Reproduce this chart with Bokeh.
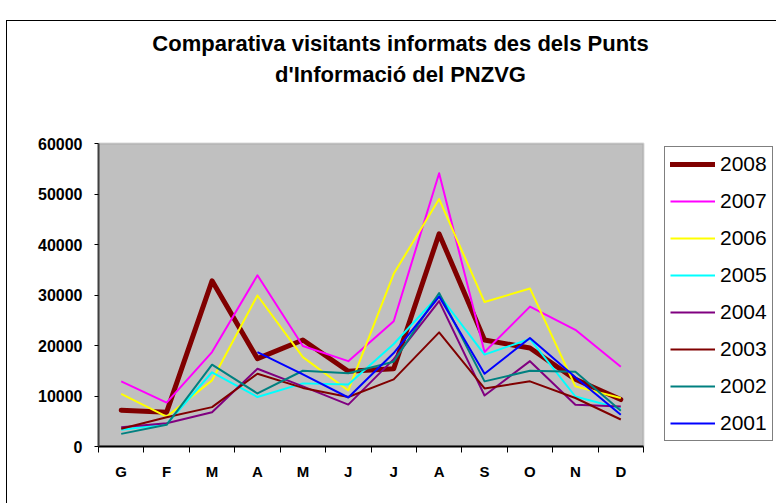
from bokeh.plotting import figure
from bokeh.models import FixedTicker, Legend, LegendItem, Range1d, Label, BoxAnnotation
from bokeh.embed import file_html
from bokeh.resources import INLINE

months = ["G", "F", "M", "A", "M", "J", "J", "A", "S", "O", "N", "D"]
years = ["2008", "2007", "2006", "2005", "2004", "2003", "2002", "2001"]
nan = float("nan")
v2008 = [7200, 6800, 32800, 17400, 21100, 14900, 15400, 42100, 21100, 19500, 13300, 9300]
v2007 = [12900, 8700, 18700, 33900, 19900, 16900, 24800, 54100, 18700, 27700, 23100, 15800]
v2006 = [10400, 5900, 13100, 29900, 17700, 11100, 34200, 49000, 28600, 31300, 11900, 9600]
v2005 = [3300, 4400, 14700, 9800, 12500, 12300, 20300, 30000, 18200, 21300, 9900, 7500]
v2004 = [3800, 4600, 6800, 15400, 11900, 8300, 17300, 28800, 10100, 16900, 8250, 7900]
v2003 = [3500, 5800, 7800, 14400, 11600, 9800, 13300, 22600, 11500, 12900, 9600, 5350]
v2002 = [2500, 4300, 16200, 10500, 15000, 14500, 16800, 30400, 12900, 15000, 14800, 7100]
v2001 = [nan, nan, nan, 18700, 14300, 9700, 18500, 29700, 14400, 21500, 13700, 6300]
y_ticks = [0, 10000, 20000, 30000, 40000, 50000, 60000]
title_lines = ["Comparativa visitants informats des dels Punts", "d'Informació del PNZVG"]

series = [v2008, v2007, v2006, v2005, v2004, v2003, v2002, v2001]
colors = ["#800000", "#FF00FF", "#FFFF00", "#00FFFF", "#800080", "#800000", "#008080", "#0000FF"]
widths = [5, 2, 2, 2, 2, 2, 2, 2]

x = list(range(1, len(months) + 1))
y_max = y_ticks[-1]

FONT = "Liberation Sans"

# layout (pixels): plot area 545 x 303, frame extended to hold title & legend
W, H = 770, 483
LEFT, BOTTOM = 91, 58
PLOT_W, PLOT_H = 545, 303
frame_w = W - LEFT
frame_h = H - BOTTOM
x_start = 0.5
x_end = x_start + len(months) * frame_w / PLOT_W
y_end = y_max * frame_h / PLOT_H

p = figure(width=W, height=H, output_backend="svg", toolbar_location=None,
           x_range=Range1d(x_start, x_end), y_range=Range1d(0, y_end),
           min_border_left=LEFT, min_border_right=0, min_border_top=0, min_border_bottom=BOTTOM,
           margin=(20, 0, 0, 6),
           styles={"border-left": "1px solid black", "border-top": "1px solid black"})
p.background_fill_color = "white"
p.border_fill_color = "white"
p.outline_line_color = None
p.xgrid.visible = False
p.ygrid.visible = False

# plot area (grey)
p.add_layout(BoxAnnotation(left=x_start, right=x_start + len(months), bottom=0, top=y_max,
                           fill_color="#C0C0C0", fill_alpha=1,
                           line_color="#808080", line_width=2, level="underlay"))

# axes
p.xaxis.bounds = (x_start, x_start + len(months))
p.xaxis.ticker = FixedTicker(ticks=x, minor_ticks=[i + 0.5 for i in range(0, len(months) + 1)])
p.xaxis.major_label_overrides = {i: m for i, m in zip(x, months)}
p.xaxis.major_tick_out = 0
p.xaxis.major_tick_in = 0
p.xaxis.minor_tick_out = 6
p.xaxis.minor_tick_in = 0
p.xaxis.minor_tick_line_color = "black"
p.xaxis.axis_line_color = "black"
p.xaxis.axis_line_width = 2
p.xaxis.major_label_standoff = 10
p.xaxis.major_label_text_font = FONT
p.xaxis.major_label_text_font_style = "bold"
p.xaxis.major_label_text_font_size = "15px"
p.xaxis.major_label_text_color = "black"

p.yaxis.bounds = (0, y_max)
p.yaxis.ticker = FixedTicker(ticks=y_ticks, minor_ticks=[])
p.yaxis.major_label_overrides = {t: str(t) for t in y_ticks}
p.yaxis.major_tick_out = 4
p.yaxis.major_tick_in = 0
p.yaxis.major_tick_line_color = "black"
p.yaxis.axis_line_color = "#404040"
p.yaxis.axis_line_width = 2
p.yaxis.major_label_standoff = 12
p.yaxis.major_label_text_font = FONT
p.yaxis.major_label_text_font_style = "bold"
p.yaxis.major_label_text_font_size = "16px"
p.yaxis.major_label_text_color = "black"

items = []
for yr, vals, c, w in zip(years, series, colors, widths):
    r = p.line(x, vals, line_color=c, line_width=w, line_join="round",
               line_cap="round" if w > 3 else "butt")
    items.append(LegendItem(label=yr, renderers=[r]))

legend = Legend(items=items, location=(566, 5))
legend.label_text_font = FONT
legend.label_text_font_size = "21px"
legend.label_text_color = "black"
legend.glyph_width = 45
legend.glyph_height = 20
legend.label_height = 20
legend.label_standoff = 5
legend.spacing = 13
legend.padding = 5
legend.margin = 0
legend.border_line_color = "black"
legend.border_line_width = 1
legend.background_fill_color = "white"
legend.background_fill_alpha = 1
p.add_layout(legend, "center")

# two-line title
for t, ty in zip(title_lines, [403, 372]):
    p.add_layout(Label(x=302, y=ty, x_units="screen", y_units="screen", text=t,
                       text_align="center", text_baseline="middle",
                       text_font=FONT, text_font_style="bold",
                       text_font_size="22px", text_color="black"))

open("out.html", "w").write(file_html(p, INLINE))
